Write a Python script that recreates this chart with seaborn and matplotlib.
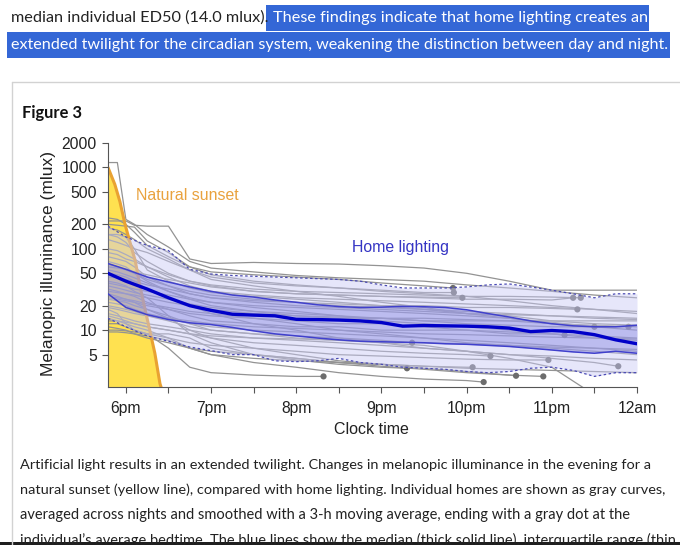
import numpy as np
import pandas as pd
import matplotlib
matplotlib.use('Agg')
import matplotlib.pyplot as plt
import seaborn as sns
from matplotlib.patches import Rectangle
from matplotlib.lines import Line2D

# ---- values ----
# natural sunset (yellow curve)
sunset_t = [17.79, 17.87, 17.93, 17.99, 18.05, 18.11, 18.16, 18.22, 18.28, 18.34, 18.40, 18.45]
sunset_v = [1000, 620, 380, 200, 118, 71, 37, 19, 10, 5.2, 2.2, 1.5]

# summary lines for home lighting
band_t = [17.79, 18.0, 18.25, 18.5, 18.75, 19.0, 19.25, 19.5, 19.75, 20.0, 20.25, 20.5, 20.75,
          21.0, 21.25, 21.5, 21.75, 22.0, 22.25, 22.5, 22.75, 23.0, 23.25, 23.5, 23.75, 24.0]
median_v = [50, 40, 32, 25, 20, 17.5, 15.7, 15.3, 15.0, 13.6, 13.5, 13.3, 13.0,
            12.4, 11.2, 11.4, 11.3, 11.2, 11.0, 10.6, 9.6, 9.9, 9.6, 8.8, 7.6, 6.8]
q75_v = [66, 56, 45, 39, 34, 30, 27, 25.5, 23.5, 22, 20.5, 19.5, 19.0,
         19.2, 19.6, 19.4, 19.0, 17.8, 16.0, 14.5, 13.0, 12.0, 11.3, 11.0, 11.0, 11.5]
q25_v = [28, 19, 15.5, 13.5, 12.3, 11.7, 10.8, 9.8, 9.0, 8.5, 8.0, 7.6, 7.3,
         7.2, 7.1, 7.0, 6.8, 6.7, 6.5, 6.3, 6.0, 5.7, 5.4, 5.2, 5.5, 5.2]
p90_v = [190, 140, 110, 95, 56, 49, 47, 46, 45, 44, 43, 42, 40,
         36, 33, 33, 33, 34, 36, 37, 34, 31, 28, 25, 28, 28]
p10_v = [14, 11, 8.5, 7.3, 6.2, 5.6, 5.0, 5.0, 4.2, 4.1, 4.2, 4.5, 4.0,
         3.8, 3.5, 3.4, 3.3, 3.1, 3.0, 3.1, 3.4, 3.5, 3.2, 2.7, 3.0, 3.0]

# individual homes (gray curves), cut at bedtime
home_t = [17.79, 17.9, 18.0, 18.1, 18.25, 18.5, 18.75, 19.0, 19.5, 20.0, 20.5, 21.0,
          21.5, 22.0, 22.5, 23.0, 23.5, 24.0]
home_vals = [
    [1150, 1150, 230, 200, 150, 105, 70, 58, 52, 47, 44, 42, 40, 36, 33, 30, 27, 25],
    [220, 220, 220, 195, 190, 190, 75, 66, 68, 66, 65, 62, 58, 50, 40, 31, 31, 31],
    [200, 195, 190, 185, 125, 90, 60, 52, 48, 45, 42, 38, 35],
    [130, 120, 110, 100, 90, 70, 55, 45, 38, 35, 33, 31, 29],
    [90, 85, 75, 70, 60, 48, 40, 35, 30, 28, 27, 26, 25.5],
    [60, 58, 56, 52, 48, 42, 38, 34, 30, 28, 27, 26, 25, 24, 24, 23.5],
    [150, 140, 120, 90, 70, 50, 40, 36, 32, 30, 29, 28, 27, 26, 26, 25.5],
    [45, 44, 42, 40, 36, 32, 28, 25, 23, 22, 21, 20, 20, 19, 19, 18.5],
    [70, 65, 60, 50, 40, 30, 25, 22, 20, 19, 18, 17, 16, 15, 14, 12.5],
    [35, 33, 31, 29, 27, 24, 21, 19, 17, 16, 15, 14, 13, 12, 11.5, 11, 11],
    [25, 24, 23, 22, 20, 18, 16, 15, 14, 13, 12, 12, 11, 10, 9.5, 9],
    [20, 19, 18, 17, 15, 13, 11, 10, 9, 8.5, 8, 7.5],
    [15, 14, 13, 12, 11, 10, 9, 8, 7, 6.5, 6, 5.5, 5.2, 5],
    [12, 12, 11, 10, 9, 8, 7, 6.5, 6, 5.5, 5, 4.8, 4.6, 4.4, 4.3],
    [18, 16, 12, 10, 9, 9, 8, 6, 5, 4.5, 4, 3.8, 3.6, 3.5],
    [10, 10, 9.8, 9.5, 9, 6, 3.5, 3, 2.8, 2.7],
    [40, 38, 35, 30, 25, 15, 9, 7, 5, 4.3, 3.8, 3.5],
    [14, 13, 12, 11, 10, 8, 6, 5, 4, 3.5, 3, 2.7, 2.5, 2.4],
    [28, 26, 24, 22, 18, 14, 10, 8, 6, 5, 4.2, 3.8, 3.4, 3.1, 2.8],
    [11, 10.5, 10, 9, 8, 7, 6, 5.5, 5, 4.5, 4, 3.6, 3.3, 3.0, 2.8],
    [50, 48, 45, 40, 32, 25, 20, 16, 12, 10, 8, 7, 6, 5.5, 5, 4.5, 4],
    [24, 23, 22, 20, 18, 15, 12, 10, 9, 8, 7.5, 7, 6.5, 5.5, 4.5, 3.5, 1.6],
    [100, 95, 85, 75, 60, 45, 35, 30, 27, 25, 24, 23, 22, 21, 20, 19, 18, 17],
    [55, 52, 48, 44, 38, 30, 24, 20, 17, 15, 14, 14, 13, 13, 13, 13, 13, 13],
    [32, 30, 28, 26, 22, 18, 15, 13, 12, 11, 11, 10, 10, 10, 9, 9, 8.5, 8],
    [22, 21, 20, 18, 16, 14, 12, 11, 10, 9.5, 9, 8.5, 8, 7.5, 7, 6.5, 6, 5.5],
    [16, 15, 14, 13, 12, 11, 10, 9, 8, 7.5, 7, 6.5, 6, 5.5, 5, 4.8, 4.5, 4.3],
    [9.5, 9.5, 9.3, 9, 8.5, 7.5, 6, 5, 4.5, 4.2, 4, 3.8, 3.6, 3.4, 3.3, 3.2, 3.1, 3.0],
    [180, 170, 150, 130, 100, 75, 55, 42, 35, 30, 26, 22, 19, 16, 14, 12, 11, 10],
    [240, 230, 200, 160, 110, 80, 60, 48, 40, 36, 33, 30, 28, 26, 23, 20, 18, 16],
    [30, 29, 28, 27, 25, 22, 20, 18, 16, 15, 14.5, 14, 14, 13.5, 13, 12, 11.5, 11],
    [65, 60, 55, 50, 42, 35, 30, 27, 24, 22, 20, 19, 18, 17, 16, 15, 14, 13.5],
    [13, 13, 12.5, 12, 11, 10, 9, 8.5, 8, 7.8, 7.5, 7.2, 7, 6.8, 6.5, 6.2, 6, 5.8],
    [150, 150, 140, 100, 55, 40, 33, 29, 26, 24, 22, 20, 18, 16, 15, 13, 12, 11.5],
    [38, 36, 34, 32, 30, 27, 24, 22, 19, 17, 15, 13, 12, 11, 10, 9, 8, 7.5],
    [26, 25, 24, 23, 21, 19, 17, 16, 14, 12, 10, 9, 8, 7, 6.5, 6, 5.5, 5],
    [80, 75, 70, 60, 45, 35, 28, 25, 22, 20, 19, 18, 17, 16, 15.5, 15, 14.5, 14],
    [19, 18, 17, 16, 15, 14, 13, 12, 11, 10.5, 10, 9.5, 9, 8.8, 8.5, 8.2, 8, 7.8],
]
bed_t = [None, None, 21.84, 21.85, 21.95, 23.25, 23.34, 23.3, 23.5, 23.9, 23.15, 21.36,
         22.28, 22.96, 22.07, 20.32, 21.3, 22.2, 22.58, 22.9, 23.78, None,
         None, None, None, None, None, None, None, None,
         None, None, None, None, None, None, None, None]
bed_v = [None, None, 33, 29, 25, 25, 25, 18, 11, 11, 8.7, 7.0,
         4.8, 4.3, 3.5, 2.7, 3.4, 2.3, 2.75, 2.7, 3.6, None,
         None, None, None, None, None, None, None, None,
         None, None, None, None, None, None, None, None]

hour_ticks = [18, 19, 20, 21, 22, 23, 24]
hour_labels = ['6pm', '7pm', '8pm', '9pm', '10pm', '11pm', '12am']
y_ticks = [5, 10, 20, 50, 100, 200, 500, 1000, 2000]

# long table for seaborn
rows = []
for i, vals in enumerate(home_vals):
    for t, v in zip(home_t, vals):
        rows.append((i, t, v))
    if bed_t[i] is not None:
        rows.append((i, bed_t[i], bed_v[i]))
homes = pd.DataFrame(rows, columns=['home', 'time', 'lux'])
dots = pd.DataFrame({'time': bed_t, 'lux': bed_v}).dropna()

sns.set_theme(style='ticks')
plt.rcParams['font.family'] = ['Liberation Sans', 'DejaVu Sans']

W, H = 680, 545
fig = plt.figure(figsize=(W / 100, H / 100), dpi=100)
renderer = fig.canvas.get_renderer()


def fx(x):
    return x / W


def fy(y):
    return 1 - y / H


def text_width(s, **kw):
    t = fig.text(0, 0, s, **kw)
    w = t.get_window_extent(renderer).width
    t.remove()
    return w


def fit_text(x, y, s, width, **kw):
    size = 12 * width / text_width(s, fontsize=12, **kw)
    return fig.text(fx(x), fy(y), s, fontsize=size, **kw)


page_font = ['Lato', 'DejaVu Sans']
ink = '#222222'
sel = '#3467d6'

# selection highlight and page frame
fig.patches.append(Rectangle((fx(266), fy(31)), fx(649 - 266), 26 / H, transform=fig.transFigure,
                             fc=sel, ec='none', zorder=0))
fig.patches.append(Rectangle((fx(7), fy(58)), fx(670 - 7), 26 / H, transform=fig.transFigure,
                             fc=sel, ec='none', zorder=0))
fig.lines.append(Line2D([fx(12), 1], [fy(82), fy(82)], transform=fig.transFigure, color='#d2d2d2', lw=1))
fig.lines.append(Line2D([fx(12), fx(12)], [fy(82), 0], transform=fig.transFigure, color='#d2d2d2', lw=1))
fig.patches.append(Rectangle((0, 0), 1, 3 / H, transform=fig.transFigure, fc='#1e1e1e', ec='none'))

# top paragraph
part1 = 'median individual ED50 (14.0 mlux). '
part2 = 'These findings indicate that home lighting creates an'
fs_top = 12 * 635 / text_width(part1 + part2, fontsize=12, family=page_font)
w_full = text_width(part1 + part2, fontsize=fs_top, family=page_font)
w2 = text_width(part2, fontsize=fs_top, family=page_font)
fig.text(fx(11), fy(18), part1, va='center', ha='left', family=page_font, fontsize=fs_top, color=ink)
fig.text(fx(11 + w_full - w2), fy(18), part2, va='center', ha='left', family=page_font,
         fontsize=fs_top, color='white')
fit_text(11, 45, 'extended twilight for the circadian system, weakening the distinction between day and night.',
         655, va='center', ha='left', family=page_font, color='white')

fit_text(22, 113, 'Figure 3', 60, va='center', ha='left', family=page_font, weight='bold', color='#111111')

# caption
caption = [
    ('Artificial light results in an extended twilight. Changes in melanopic illuminance in the evening for a', 465, 626),
    ('natural sunset (yellow line), compared with home lighting. Individual homes are shown as gray curves,', 490, 641),
    ('averaged across nights and smoothed with a 3-h moving average, ending with a gray dot at the', 515, 603),
    ('individual\u2019s average bedtime. The blue lines show the median (thick solid line), interquartile range (thin', 540, 648),
]
for line, ypos, width in caption:
    fit_text(20, ypos, line, width, va='center', ha='left', family=page_font, color=ink)

# ---- chart ----
ax = fig.add_axes([fx(108), fy(387), fx(637 - 108), (387 - 143) / H])
ax.set_yscale('log')

ax.fill_between(sunset_t, sunset_v, 0.5, color='#ffe150', lw=0, zorder=1)

sns.lineplot(data=homes, x='time', y='lux', units='home', estimator=None, sort=False,
             color='#939393', lw=0.9, ax=ax, legend=False, zorder=2)
sns.scatterplot(data=dots, x='time', y='lux', color='#6c6c6c', s=20, edgecolor='none', ax=ax, zorder=2.2)

ax.plot(sunset_t, sunset_v, color='#e9a232', lw=2.2, zorder=2.5)

ax.fill_between(band_t, p10_v, p90_v, color='#c8c8f5', alpha=0.45, lw=0, zorder=3)
ax.fill_between(band_t, q25_v, q75_v, color='#7f7fe0', alpha=0.4, lw=0, zorder=3.1)
sns.lineplot(x=band_t, y=p90_v, color='#4a4ab4', lw=0.9, ls=(0, (2, 2)), ax=ax, zorder=3.2)
sns.lineplot(x=band_t, y=p10_v, color='#4a4ab4', lw=0.9, ls=(0, (2, 2)), ax=ax, zorder=3.2)
sns.lineplot(x=band_t, y=q75_v, color='#4040cc', lw=1.1, ax=ax, zorder=3.3)
sns.lineplot(x=band_t, y=q25_v, color='#4040cc', lw=1.1, ax=ax, zorder=3.3)
sns.lineplot(x=band_t, y=median_v, color='#0000c8', lw=2.4, ax=ax, zorder=3.5)

ax.set_xlim(17.79, 24)
ax.set_ylim(2, 2000)
ax.set_xticks(hour_ticks)
ax.set_xticklabels(hour_labels)
ax.set_xticks(np.arange(18.5, 24, 1.0), minor=True)
ax.set_yticks(y_ticks)
ax.set_yticklabels([str(v) for v in y_ticks])
ax.yaxis.set_minor_locator(matplotlib.ticker.NullLocator())
ax.set_xlabel('')
ax.set_ylabel('')
ax.tick_params(axis='both', which='both', direction='out', length=4.5, width=0.8,
               color='#555555', labelcolor=ink, labelsize=11.3)
ax.tick_params(axis='x', which='both', pad=5.5)
ax.tick_params(axis='y', pad=3.5)
sns.despine(ax=ax)
for side in ['left', 'bottom']:
    ax.spines[side].set_color('#555555')
    ax.spines[side].set_linewidth(0.8)
ax.set_facecolor('none')

fig.text(fx(371), fy(430), 'Clock time', ha='center', va='center', fontsize=11.5, color=ink)
fig.text(fx(49), fy(263), 'Melanopic illuminance (mlux)', ha='center', va='center', rotation=90,
         fontsize=12.5, color=ink)
fig.text(fx(136), fy(195), 'Natural sunset', ha='left', va='center', fontsize=11.4, color='#e9a23e')
fig.text(fx(352), fy(247), 'Home lighting', ha='left', va='center', fontsize=11.4, color='#3535c4')

fig.savefig('out.png', dpi=100, facecolor='white')
